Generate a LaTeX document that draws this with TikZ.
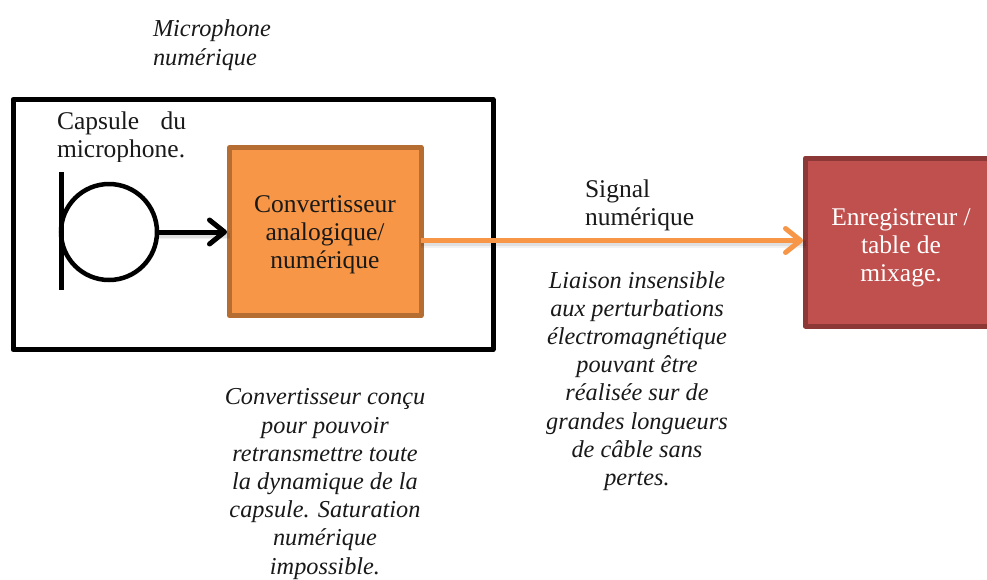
\documentclass[tikz,border=0pt]{standalone}
\usepackage{fontspec}
\setmainfont{Liberation Serif}
\usetikzlibrary{arrows.meta}
\definecolor{orfill}{HTML}{F79646}
\definecolor{orline}{HTML}{B66D31}
\definecolor{redfill}{HTML}{C0504D}
\definecolor{redline}{HTML}{8C3836}
\newcommand{\fsr}{\fontsize{25.5}{28.2}\selectfont}
\newcommand{\fsi}{\fontsize{24.3}{28.2}\selectfont\itshape}
\tikzset{
  every node/.style={inner sep=0pt,outer sep=0pt},
  txt/.style={font=\fsr,align=center,text=black!90},
  ittxt/.style={font=\fsi,align=center,text=black!90},
  lefttxt/.style={font=\fsr,align=left,text=black!90},
  leftit/.style={font=\fsi,align=left,text=black!90},
  blockK/.style={draw=black,line width=5pt,line join=round},
  blockA/.style={draw=orline,fill=orfill,line width=5pt,line join=round},
  blockB/.style={draw=redline,fill=redfill,line width=5pt,line join=round},
  shadowline/.style={draw=black,opacity=0.07,line width=5pt},
  shadowwide/.style={draw=black,opacity=0.05,line width=8pt},
  conn/.style={line width=5pt,shorten >=2.5pt,-{Straight Barb[length=15pt,width=24pt,line width=5pt,round]}}
}
\begin{document}
\begin{tikzpicture}[x=1pt,y=-1pt]
\useasboundingbox (0,0) rectangle (987,579);
\fill[white] (0,0) rectangle (987,579);
\clip (0,0) rectangle (987,579);
% outer microphone box
\node[blockK,minimum width=480pt,minimum height=250pt,anchor=north west] (mic) at (13,99.5) {};
% converter and recorder
\node[blockA,minimum width=191.5pt,minimum height=168pt,anchor=north west] (conv) at (229.5,147.5) {};
\node[txt] (convt) at (325,235) {Convertisseur\\analogique/\\numérique};
\node[blockB,minimum width=200pt,minimum height=168pt,anchor=north west] (rec) at (805.5,158) {};
\node[txt,text=white] (rect) at (901,248) {Enregistreur /\\table de\\mixage.};
% capsule symbol
\node[draw=black,line width=4.5pt,circle,minimum size=96pt] (caps) at (109,232) {};
\coordinate (barT) at (61,172);
\coordinate (barB) at (61,290);
\draw[black,line width=5pt] (barT) -- (barB);
% connector shadows
\coordinate (oS) at ([yshift=-9pt]conv.east);
\draw[shadowline] ([yshift=-3pt]oS) -- ([yshift=-3pt]oS -| rec.west);
\draw[shadowwide] ([yshift=-3pt]oS) -- ([yshift=-3pt]oS -| rec.west);
\draw[shadowline] ([yshift=-3pt]caps.east) -- ([yshift=-3pt]caps.east -| conv.west);
\draw[shadowwide] ([yshift=-3pt]caps.east) -- ([yshift=-3pt]caps.east -| conv.west);
% connectors
\draw[conn,black] (caps.east) -- (caps.east -| conv.west);
\draw[conn,orfill] (oS) -- (oS -| rec.west);
% labels
\begin{scope}
\clip (40,105) rectangle (200,161);
\node[lefttxt,anchor=north west,text width=129pt,align=justify] (capl) at (57,112) {Capsule\hfill du\\microphone.};
\end{scope}
\node[leftit,anchor=north west] (titl) at (153,20) {Microphone\\numérique};
\node[lefttxt,anchor=north west] (sigl) at (585,180) {Signal\\numérique};
\node[ittxt] (liais) at (637,381) {Liaison insensible\\aux perturbations\\électromagnétique\\pouvant être\\réalisée sur de\\grandes longueurs\\de câble sans\\pertes.};
\node[ittxt] (convn) at (325,484) {Convertisseur conçu\\pour pouvoir\\retransmettre toute\\la dynamique de la\\capsule. Saturation\\numérique\\impossible.};
\end{tikzpicture}
\end{document}
